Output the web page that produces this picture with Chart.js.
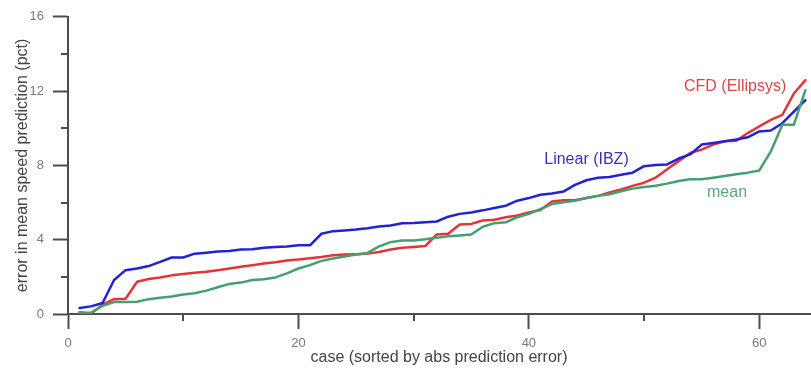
<!DOCTYPE html>
<html>
<head>
<meta charset="utf-8">
<script src="https://cdn.jsdelivr.net/npm/chart.js@4/dist/chart.umd.min.js"></script>
<style>
  html, body { margin: 0; padding: 0; background: #ffffff; }
  #wrap { width: 811px; height: 376px; }
</style>
</head>
<body>
<div id="wrap"><canvas id="c" width="811" height="376"></canvas></div>
<script>
// Cases 1..64, sorted by absolute prediction error
const cases = Array.from({ length: 64 }, (_, i) => i + 1);

// Error in mean speed prediction (pct) for each model
const linearIBZ = [
  0.32, 0.41, 0.59, 1.83, 2.36, 2.45, 2.58, 2.81, 3.04, 3.04,
  3.25, 3.30, 3.36, 3.39, 3.47, 3.48, 3.57, 3.61, 3.64, 3.70,
  3.70, 4.32, 4.46, 4.50, 4.55, 4.62, 4.71, 4.76, 4.89, 4.90,
  4.94, 4.98, 5.24, 5.39, 5.47, 5.58, 5.71, 5.83, 6.10, 6.24,
  6.42, 6.49, 6.59, 6.95, 7.20, 7.34, 7.38, 7.50, 7.61, 7.96,
  8.02, 8.05, 8.37, 8.59, 9.12, 9.21, 9.30, 9.39, 9.51, 9.83,
  9.88, 10.27, 10.90, 11.52
];
const cfdEllipsys = [
  0.10, 0.02, 0.50, 0.80, 0.82, 1.74, 1.88, 1.97, 2.08, 2.15,
  2.22, 2.28, 2.36, 2.45, 2.54, 2.63, 2.72, 2.79, 2.88, 2.93,
  3.00, 3.07, 3.16, 3.20, 3.22, 3.25, 3.34, 3.47, 3.57, 3.61,
  3.66, 4.28, 4.32, 4.82, 4.85, 5.03, 5.07, 5.21, 5.30, 5.47,
  5.60, 6.06, 6.13, 6.13, 6.24, 6.36, 6.54, 6.70, 6.90, 7.07,
  7.34, 7.79, 8.23, 8.67, 8.85, 9.12, 9.30, 9.33, 9.74, 10.10,
  10.45, 10.72, 11.87, 12.59
];
const meanModel = [
  0.05, 0.08, 0.44, 0.64, 0.64, 0.66, 0.80, 0.87, 0.94, 1.05,
  1.12, 1.26, 1.44, 1.62, 1.69, 1.83, 1.87, 1.97, 2.19, 2.45,
  2.63, 2.86, 2.99, 3.10, 3.20, 3.29, 3.64, 3.87, 3.96, 3.96,
  4.02, 4.11, 4.18, 4.23, 4.28, 4.70, 4.89, 4.94, 5.21, 5.39,
  5.65, 5.92, 6.01, 6.10, 6.24, 6.36, 6.45, 6.61, 6.75, 6.84,
  6.90, 7.02, 7.16, 7.25, 7.25, 7.34, 7.43, 7.52, 7.61, 7.73,
  8.75, 10.19, 10.19, 12.05
];

// Axis ticks: labelled major ticks and unlabelled minor ticks
const xMajorTicks = [0, 20, 40, 60];
const xMinorTicks = [10, 30, 50];
const yMajorTicks = [0, 4, 8, 12, 16];
const yMinorTicks = [2, 6, 10, 14];

// In-plot series labels, placed in data coordinates
const seriesLabels = [
  { text: 'CFD (Ellipsys)', x: 57.9, y: 12.25, color: '#d84848' },
  { text: 'Linear (IBZ)',   x: 45.0, y: 8.30,  color: '#3434b4' },
  { text: 'mean',           x: 57.2, y: 6.52,  color: '#5aa87e' }
];

const FONT = "'Liberation Sans', Arial, Helvetica, sans-serif";
const AXIS_COLOR = '#4d4d4d';

function toPoints(values) {
  return cases.map((c, i) => ({ x: c, y: values[i] }));
}

// Short minor ticks drawn along the axes through the chart's scales
const minorTickPlugin = {
  id: 'minorTicks',
  afterDraw(chart) {
    const { ctx, scales: { x, y }, chartArea } = chart;
    ctx.save();
    ctx.strokeStyle = AXIS_COLOR;
    ctx.lineWidth = 2;
    ctx.beginPath();
    yMinorTicks.forEach(v => {
      const py = Math.round(y.getPixelForValue(v));
      ctx.moveTo(chartArea.left, py);
      ctx.lineTo(chartArea.left - 7, py);
    });
    xMinorTicks.forEach(v => {
      const px = Math.round(x.getPixelForValue(v));
      ctx.moveTo(px, chartArea.bottom);
      ctx.lineTo(px, chartArea.bottom + 7);
    });
    ctx.stroke();
    ctx.restore();
  }
};

// Series names written next to their curves
const seriesLabelPlugin = {
  id: 'seriesLabels',
  afterDatasetsDraw(chart) {
    const { ctx, scales: { x, y } } = chart;
    ctx.save();
    ctx.font = '16px ' + FONT;
    ctx.textAlign = 'center';
    ctx.textBaseline = 'middle';
    seriesLabels.forEach(l => {
      ctx.fillStyle = l.color;
      ctx.fillText(l.text, x.getPixelForValue(l.x), y.getPixelForValue(l.y));
    });
    ctx.restore();
  }
};

new Chart(document.getElementById('c'), {
  type: 'line',
  data: {
    datasets: [
      { label: 'mean', data: toPoints(meanModel), borderColor: 'rgb(68,160,112)', borderWidth: 2.5 },
      { label: 'Linear (IBZ)', data: toPoints(linearIBZ), borderColor: 'rgb(34,34,210)', borderWidth: 2.5 },
      { label: 'CFD (Ellipsys)', data: toPoints(cfdEllipsys), borderColor: 'rgb(226,54,54)', borderWidth: 2.5 }
    ]
  },
  options: {
    responsive: false,
    animation: false,
    devicePixelRatio: 1,
    parsing: false,
    elements: {
      point: { radius: 0, hoverRadius: 0 },
      line: { tension: 0, borderJoinStyle: 'round', borderCapStyle: 'round', fill: false }
    },
    layout: { padding: { top: 14, right: 1, left: 0, bottom: 0 } },
    plugins: { legend: { display: false }, tooltip: { enabled: false } },
    scales: {
      x: {
        type: 'linear',
        min: 0,
        max: 64.4,
        afterBuildTicks: s => { s.ticks = xMajorTicks.map(v => ({ value: v })); },
        afterFit: s => { s.height = 62; },
        grid: { drawOnChartArea: false, drawTicks: true, tickLength: 15, tickColor: AXIS_COLOR, tickWidth: 2 },
        border: { display: true, color: AXIS_COLOR, width: 2 },
        ticks: { color: '#7a7a7a', font: { family: FONT, size: 13 }, padding: 7, maxRotation: 0 },
        title: {
          display: true,
          text: 'case (sorted by abs prediction error)',
          color: '#444444',
          font: { family: FONT, size: 16 },
          padding: { top: 0, bottom: 9 }
        }
      },
      y: {
        type: 'linear',
        min: 0,
        max: 16,
        afterBuildTicks: s => { s.ticks = yMajorTicks.map(v => ({ value: v })); },
        afterFit: s => { s.width = 68; },
        grid: { drawOnChartArea: false, drawTicks: true, tickLength: 15, tickColor: AXIS_COLOR, tickWidth: 2 },
        border: { display: true, color: AXIS_COLOR, width: 2 },
        ticks: { color: '#7a7a7a', font: { family: FONT, size: 13 }, padding: 9 },
        title: {
          display: true,
          text: 'error in mean speed prediction (pct)',
          color: '#444444',
          font: { family: FONT, size: 16 },
          padding: { top: 13, bottom: 0 }
        }
      }
    }
  },
  plugins: [minorTickPlugin, seriesLabelPlugin]
});
</script>
</body>
</html>
